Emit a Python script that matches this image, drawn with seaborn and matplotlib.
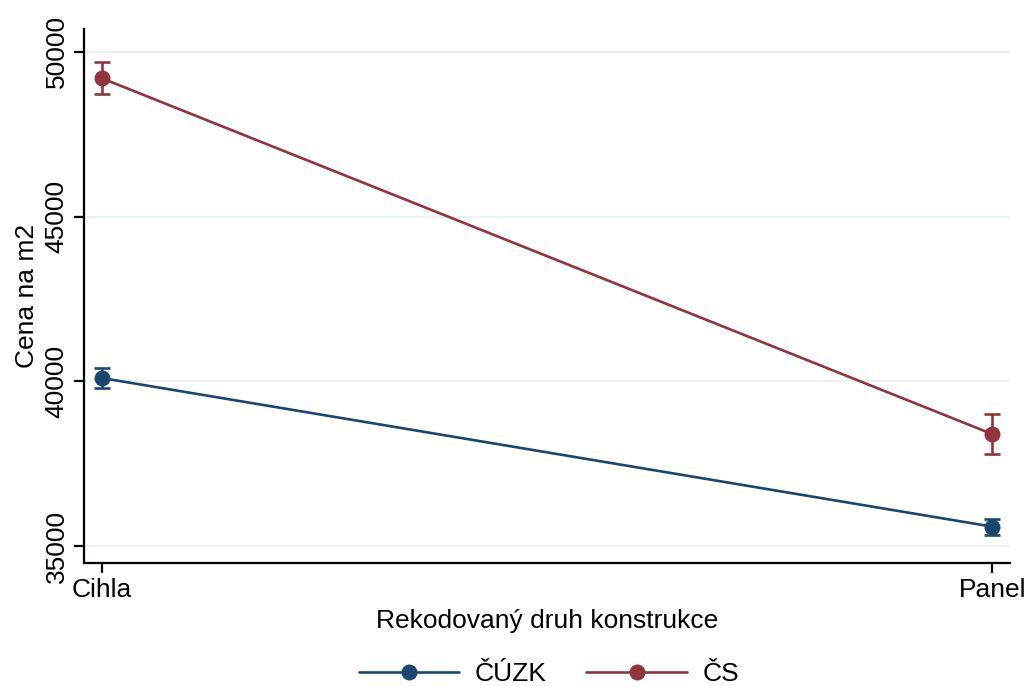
import numpy as np
import pandas as pd
import matplotlib
matplotlib.use('Agg')
import matplotlib.pyplot as plt
import seaborn as sns

# data
konstrukce = ['Cihla', 'Panel']
skupiny = ['ČÚZK', 'ČS']
cuzk_mean = [40100, 35590]
cuzk_lo = [39790, 35340]
cuzk_hi = [40400, 35830]
cs_mean = [49200, 38400]
cs_lo = [48730, 37800]
cs_hi = [49680, 39000]
y_ticks = [35000, 40000, 45000, 50000]

barvy = {'ČÚZK': '#1a476f', 'ČS': '#90353b'}

sns.set_theme(style='white')
plt.rcParams['font.family'] = ['Liberation Sans', 'DejaVu Sans']
plt.rcParams['text.color'] = 'black'

df = pd.DataFrame({
    'druh': konstrukce * 2,
    'cena': cuzk_mean + cs_mean,
    'lo': cuzk_lo + cs_lo,
    'hi': cuzk_hi + cs_hi,
    'zdroj': ['ČÚZK'] * 2 + ['ČS'] * 2,
})

fig = plt.figure(figsize=(10.28, 6.86), dpi=100)
ax = fig.add_axes([0.0817, 0.179, 0.9008, 0.779])

sns.lineplot(data=df, x='druh', y='cena', hue='zdroj', hue_order=skupiny,
             palette=barvy, marker='o', markersize=11.5, markeredgewidth=0,
             linewidth=1.9, ax=ax, sort=False)

# confidence intervals
for zdroj, sub in df.groupby('zdroj'):
    xs = [konstrukce.index(d) for d in sub['druh']]
    ax.errorbar(xs, sub['cena'],
                yerr=[sub['cena'] - sub['lo'], sub['hi'] - sub['cena']],
                fmt='none', ecolor=barvy[zdroj], elinewidth=1.9,
                capsize=5.5, capthick=1.9)

ax.set_xlim(-0.02, 1.02)
ax.set_ylim(34480, 50700)
ax.set_xticks([0, 1])
ax.set_xticklabels(konstrukce)
ax.set_yticks(y_ticks)
ax.set_yticklabels([str(t) for t in y_ticks], rotation=90, va='center')
ax.grid(axis='y', color='#eaf2f3', linewidth=1.6)
ax.set_axisbelow(True)

for s in ['top', 'right']:
    ax.spines[s].set_visible(False)
for s in ['left', 'bottom']:
    ax.spines[s].set_color('black')
    ax.spines[s].set_linewidth(1.6)

ax.tick_params(axis='both', which='both', direction='out', length=7, width=1.6,
               colors='black', labelsize=19, left=True, bottom=True, pad=4)
ax.set_xlabel('Rekodovaný druh konstrukce', fontsize=19, color='black', labelpad=5)
ax.set_ylabel('Cena na m2', fontsize=19, color='black', labelpad=4)

handles, labels = ax.get_legend_handles_labels()
ax.legend_.remove()
leg = fig.legend(handles, labels, loc='center', bbox_to_anchor=(0.534, 0.017),
                 ncol=2, frameon=False, fontsize=19, handlelength=3.8,
                 columnspacing=1.5, handletextpad=0.6, borderpad=0)
for t in leg.get_texts():
    t.set_color('black')

fig.savefig('out.png', dpi=100, facecolor='white')
